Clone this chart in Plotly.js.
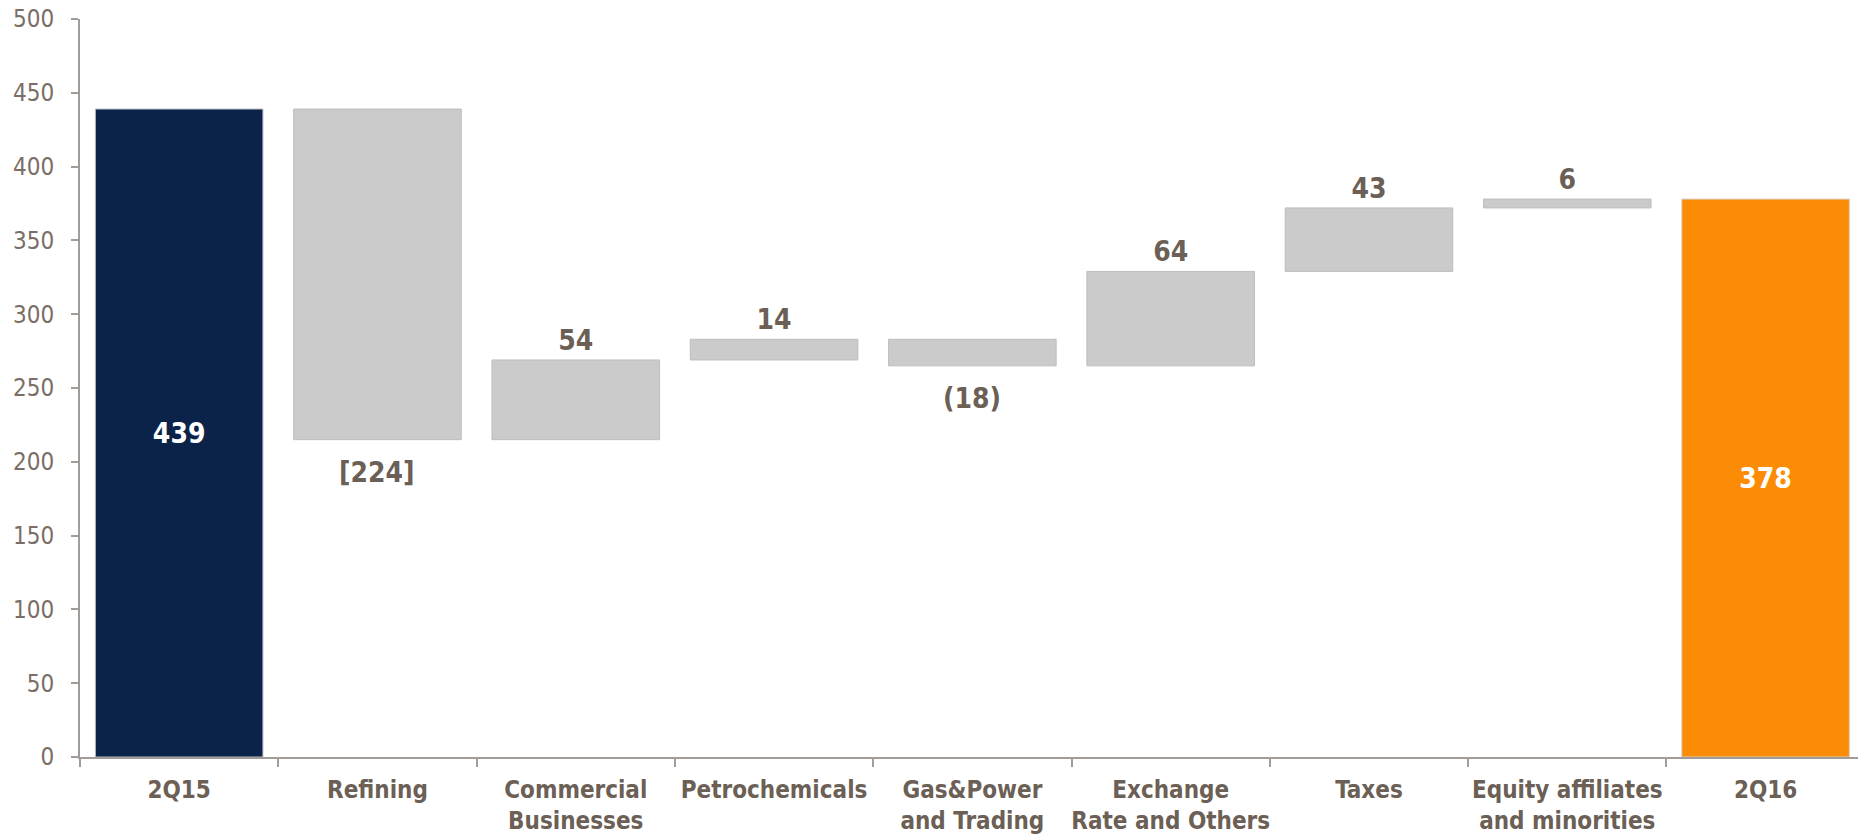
<!DOCTYPE html>
<html>
<head>
<meta charset="utf-8">
<script src="https://cdn.plot.ly/plotly-3.0.1.min.js"></script>
<style>
html,body{margin:0;padding:0;background:#fff;}
#chart{width:1858px;height:834px;}
</style>
</head>
<body>
<div id="chart"></div>
<script>
// Data
var categories = ["2Q15", "Refining", "Commercial<br>Businesses", "Petrochemicals", "Gas&Power<br>and Trading", "Exchange<br>Rate and Others", "Taxes", "Equity affiliates<br>and minorities", "2Q16"];
var kinds = ["total", "delta", "delta", "delta", "delta", "delta", "delta", "delta", "total"];
var values = [439, -224, 54, 14, -18, 64, 43, 6, 378];
var labels = ["439", "[224]", "54", "14", "(18)", "64", "43", "6", "378"];

// Build bases (floating bars) from the running total
var bases = [], heights = [], ends = [], running = 0;
for (var i = 0; i < values.length; i++) {
  if (kinds[i] === "total") { bases.push(0); heights.push(values[i]); running = values[i]; }
  else { bases.push(running); heights.push(values[i]); running += values[i]; }
  ends.push(running);
}

var NAVY = "#0b2349", ORANGE = "#fc8c05", GREY = "#cbcbcb";
var LABEL = "#6b5f56";
var FONT = "DejaVu Sans Condensed, DejaVu Sans";
var colors = categories.map(function(c, i){ return i === 0 ? NAVY : (i === categories.length - 1 ? ORANGE : GREY); });
var lineColors = categories.map(function(c, i){ return i === 0 ? "#b9bcc3" : (i === categories.length - 1 ? "#d9d2cb" : "#bdbdbd"); });
var textPos = kinds.map(function(k){ return k === "total" ? "inside" : "outside"; });
var textColors = kinds.map(function(k){ return k === "total" ? "#ffffff" : LABEL; });
// negative deltas get their label as an annotation below the bar
var barText = labels.map(function(t, i){ return (kinds[i] === "delta" && values[i] < 0) ? "" : t; });
var annotations = [];
for (var j = 0; j < values.length; j++) {
  if (kinds[j] === "delta" && values[j] < 0) {
    annotations.push({
      x: categories[j], y: ends[j], xref: "x", yref: "y",
      text: labels[j], showarrow: false, yanchor: "top", yshift: -14,
      font: { family: FONT, size: 28, weight: "bold", color: LABEL }
    });
  }
}

var trace = {
  type: "bar",
  x: categories,
  y: heights,
  base: bases,
  text: barText,
  textposition: textPos,
  insidetextanchor: "middle",
  textangle: 0,
  constraintext: "none",
  cliponaxis: false,
  textfont: { family: FONT, size: 28, weight: "bold", color: textColors },
  marker: { color: colors, line: { color: lineColors, width: 1 } },
  hoverinfo: "none"
};

var layout = {
  width: 1858, height: 834,
  margin: { l: 80, r: 0, t: 19, b: 77 },
  paper_bgcolor: "#ffffff", plot_bgcolor: "#ffffff",
  showlegend: false,
  bargap: 0.155,
  annotations: annotations,
  xaxis: {
    type: "category",
    range: [-0.5, 8.466],
    tickson: "boundaries",
    tickangle: 0,
    automargin: false,
    ticks: "outside", ticklen: 8, tickwidth: 2, tickcolor: "#a29c98",
    showline: true, linecolor: "#a29c98", linewidth: 2,
    showgrid: false, zeroline: false,
    ticklabelstandoff: 10,
    tickfont: { family: FONT, size: 24, weight: "bold", color: LABEL },
    fixedrange: true
  },
  yaxis: {
    range: [0, 500],
    automargin: false,
    tickvals: [0, 50, 100, 150, 200, 250, 300, 350, 400, 450, 500],
    ticks: "outside", ticklen: 7, tickwidth: 2, tickcolor: "#a29c98",
    showline: true, linecolor: "#a29c98", linewidth: 2,
    showgrid: false, zeroline: false,
    ticklabelstandoff: 12,
    tickfont: { family: FONT, size: 24, color: "#7a6e66" },
    fixedrange: true
  }
};

Plotly.newPlot("chart", [trace], layout, { displayModeBar: false, staticPlot: true });
</script>
</body>
</html>
